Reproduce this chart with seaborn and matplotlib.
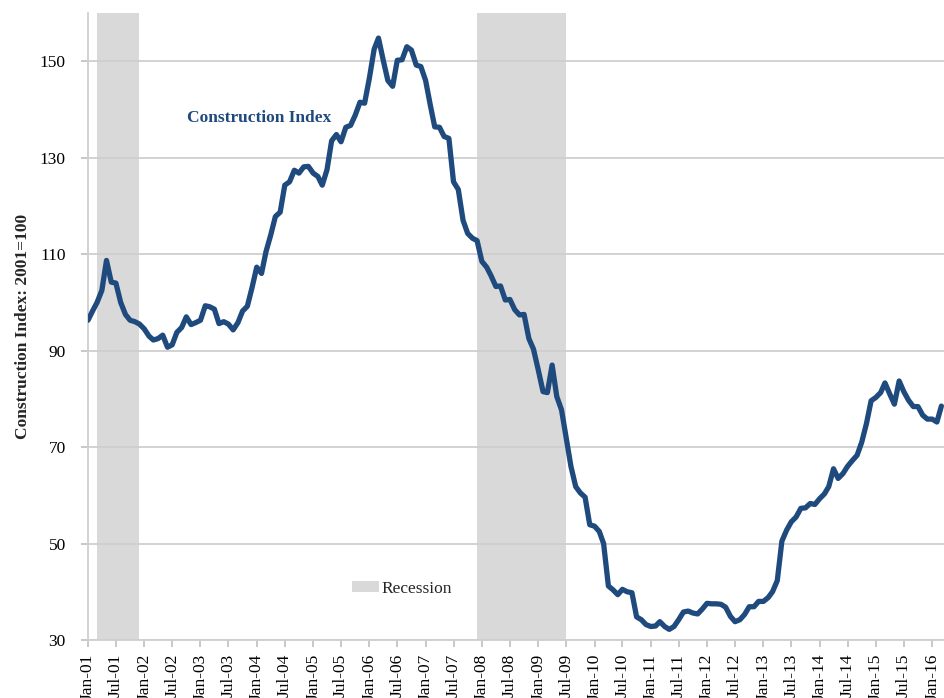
import pandas as pd
import numpy as np
import matplotlib
matplotlib.use('Agg')
import matplotlib.pyplot as plt
import matplotlib.dates as mdates
from matplotlib.patches import Patch
import seaborn as sns

# monthly index values, Jan-2001 .. Mar-2016 (2001=100)
index_values = [
    96.3, 98.3, 100.0, 102.5, 108.7, 104.2, 104.0, 100.0, 97.5, 96.3,
    96.0, 95.5, 94.5, 93.0, 92.2, 92.5, 93.2, 90.7, 91.2, 93.8,
    94.8, 97.0, 95.4, 95.8, 96.3, 99.3, 99.1, 98.6, 95.6, 96.0,
    95.5, 94.3, 95.8, 98.2, 99.2, 103.0, 107.3, 106.0, 110.5, 114.0,
    117.8, 118.7, 124.3, 125.0, 127.4, 126.8, 128.1, 128.2, 126.8, 126.1,
    124.3, 127.5, 133.5, 134.8, 133.3, 136.3, 136.7, 138.8, 141.5, 141.3,
    146.5, 152.5, 154.8, 150.2, 146.0, 144.8, 150.2, 150.3, 153.0, 152.3,
    149.2, 148.9, 146.0, 140.8, 136.4, 136.3, 134.4, 134.0, 125.0, 123.4,
    117.0, 114.3, 113.3, 112.8, 108.5, 107.3, 105.5, 103.3, 103.4, 100.5,
    100.6, 98.5, 97.4, 97.5, 92.5, 90.3, 86.0, 81.5, 81.3, 87.0,
    80.5, 77.7, 72.0, 66.0, 61.8, 60.5, 59.6, 53.9, 53.6, 52.5,
    50.0, 41.2, 40.4, 39.4, 40.5, 40.0, 39.8, 34.8, 34.2, 33.2,
    32.8, 32.9, 33.8, 32.8, 32.2, 32.8, 34.2, 35.8, 36.0, 35.6,
    35.4, 36.4, 37.6, 37.5, 37.5, 37.4, 36.8, 34.9, 33.8, 34.2,
    35.3, 36.9, 36.9, 38.0, 38.0, 38.8, 40.0, 42.3, 50.5, 52.8,
    54.5, 55.5, 57.3, 57.4, 58.3, 58.1, 59.3, 60.3, 61.8, 65.5,
    63.5, 64.5, 66.0, 67.2, 68.3, 71.0, 74.9, 79.6, 80.3, 81.3,
    83.3, 81.0, 78.9, 83.7, 81.5, 79.7, 78.4, 78.4, 76.6, 75.8,
    75.8, 75.2, 78.5,
]
months = pd.date_range('2001-01-01', periods=len(index_values), freq='MS')

# recession bands (shaded through the whole last month)
recession_start = ['2001-03-01', '2007-12-01']
recession_end = ['2001-12-01', '2009-07-01']

df = pd.DataFrame({'month': months, 'index': index_values})

sns.set_theme(style='white')
plt.rcParams['font.family'] = ['Liberation Serif', 'DejaVu Serif']

line_color = '#1F4A7E'
grid_color = '#CFCFCF'
shade_color = '#D9D9D9'

fig = plt.figure(figsize=(9.44, 6.98), dpi=100)
ax = fig.add_axes([88 / 944, 1 - 640 / 698, 1 - 88 / 944, (640 - 13) / 698])

for s, e in zip(recession_start, recession_end):
    ax.axvspan(pd.Timestamp(s), pd.Timestamp(e), color=shade_color, lw=0, zorder=0)

sns.lineplot(data=df, x='month', y='index', color=line_color, linewidth=3.8, ax=ax, zorder=3)

ax.set_ylim(30, 160)
ax.set_yticks(range(30, 151, 20))
ax.set_xlim(months[0], months[0] + pd.Timedelta(days=int(182.5 * 30.44)))
ax.xaxis.set_major_locator(mdates.MonthLocator(bymonth=[1, 7]))
ax.xaxis.set_major_formatter(mdates.DateFormatter('%b-%y'))
plt.setp(ax.get_xticklabels(), rotation=90, ha='center', va='top')

ax.yaxis.grid(True, color=grid_color, linewidth=1.3)
ax.set_axisbelow(True)
for side in ['top', 'right']:
    ax.spines[side].set_visible(False)
for side in ['left', 'bottom']:
    ax.spines[side].set_color(grid_color)
    ax.spines[side].set_linewidth(1.3)

ax.tick_params(axis='both', bottom=True, left=True, length=5, width=1.2,
               color='#BFBFBF', labelsize=12.5, labelcolor='black')
ax.tick_params(axis='y', pad=11)
ax.tick_params(axis='x', pad=5)

ax.set_xlabel('')
ax.set_ylabel('Construction Index: 2001=100', fontsize=12.5, fontweight='bold', labelpad=6)

ax.text(pd.Timestamp('2004-01-15'), 138.2, 'Construction Index', color=line_color,
        fontsize=12.5, fontweight='bold', ha='center', va='center')

leg = ax.legend(handles=[Patch(facecolor=shade_color, edgecolor='none', label='Recession')],
                loc='center left', bbox_to_anchor=(0.308, 0.082), frameon=False,
                fontsize=12.5, handlelength=1.6, handleheight=0.55, handletextpad=0.1,
                borderpad=0, borderaxespad=0)

plt.savefig('out.png', dpi=100)
plt.close()
